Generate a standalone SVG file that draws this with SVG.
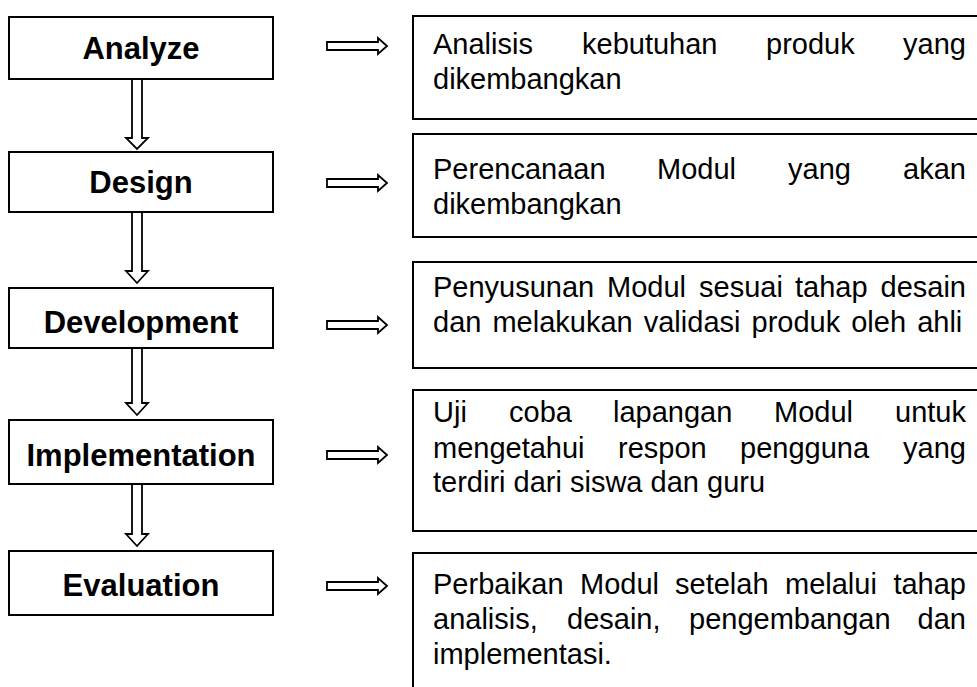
<svg xmlns="http://www.w3.org/2000/svg" width="977" height="687" viewBox="0 0 977 687">
<style>
.box{fill:#fff;stroke:#000;stroke-width:2}
.arr{fill:#fff;stroke:#000;stroke-width:1.8;stroke-linejoin:miter}
.lbl{font-family:"Liberation Sans",Arial,sans-serif;font-weight:bold;font-size:31px;fill:#000;text-anchor:middle}
.txt{font-family:"Liberation Sans",Arial,sans-serif;font-size:29px;fill:#000}
.e{text-anchor:end}
</style>
<rect width="977" height="687" fill="#fff"/>
<g id="connectors">
<polygon class="arr" points="132,79 142,79 142,138 148,138 137,149 126,138 132,138"/>
<polygon class="arr" points="132,212 142,212 142,271 148,271 137,283 126,271 132,271"/>
<polygon class="arr" points="132,348 142,348 142,403 148,403 137,415 126,403 132,403"/>
<polygon class="arr" points="132,484 142,484 142,534 148,534 137,546 126,534 132,534"/>
<polygon class="arr" points="327,42 378,42 378,38 387,46 378,54 378,50 327,50"/>
<polygon class="arr" points="327,179 378,179 378,175 387,183 378,191 378,187 327,187"/>
<polygon class="arr" points="327,321 378,321 378,317 387,325 378,333 378,329 327,329"/>
<polygon class="arr" points="327,451 378,451 378,447 387,455 378,463 378,459 327,459"/>
<polygon class="arr" points="327,582 378,582 378,578 387,586 378,594 378,590 327,590"/>
</g>
<g id="analyze"><rect class="box" x="9" y="17" width="264" height="62"/><text class="lbl" x="141" y="59">Analyze</text></g>
<g id="design"><rect class="box" x="9" y="152" width="264" height="60"/><text class="lbl" x="141" y="193">Design</text></g>
<g id="development"><rect class="box" x="9" y="288" width="264" height="60"/><text class="lbl" x="141" y="333">Development</text></g>
<g id="implementation"><rect class="box" x="9" y="420" width="264" height="64"/><text class="lbl" x="141" y="466">Implementation</text></g>
<g id="evaluation"><rect class="box" x="9" y="551" width="264" height="64"/><text class="lbl" x="141" y="596">Evaluation</text></g>
<g id="desc-analyze"><rect class="box" x="413" y="16" width="580" height="103"/>
<text class="txt" x="433" y="54">Analisis</text><text class="txt" x="582" y="54">kebutuhan</text><text class="txt" x="766" y="54">produk</text><text class="txt e" x="966" y="54">yang</text>
<text class="txt" x="433" y="89">dikembangkan</text></g>
<g id="desc-design"><rect class="box" x="413" y="134" width="580" height="103"/>
<text class="txt" x="433" y="179">Perencanaan</text><text class="txt" x="657" y="179">Modul</text><text class="txt" x="788" y="179">yang</text><text class="txt e" x="966" y="179">akan</text>
<text class="txt" x="433" y="214">dikembangkan</text></g>
<g id="desc-development"><rect class="box" x="413" y="262" width="580" height="106"/>
<text class="txt" x="433" y="297">Penyusunan</text><text class="txt" x="607" y="297">Modul</text><text class="txt" x="699" y="297">sesuai</text><text class="txt" x="795" y="297">tahap</text><text class="txt e" x="966" y="297">desain</text>
<text class="txt" x="433" y="332" word-spacing="3">dan melakukan validasi produk oleh ahli</text></g>
<g id="desc-implementation"><rect class="box" x="413" y="390" width="580" height="141"/>
<text class="txt" x="433" y="422">Uji</text><text class="txt" x="509" y="422">coba</text><text class="txt" x="613" y="422">lapangan</text><text class="txt" x="774" y="422">Modul</text><text class="txt e" x="966" y="422">untuk</text>
<text class="txt" x="433" y="458">mengetahui</text><text class="txt" x="618" y="458">respon</text><text class="txt" x="740" y="458">pengguna</text><text class="txt e" x="966" y="458">yang</text>
<text class="txt" x="433" y="492">terdiri dari siswa dan guru</text></g>
<g id="desc-evaluation"><rect class="box" x="413" y="553" width="580" height="150"/>
<text class="txt" x="433" y="594">Perbaikan</text><text class="txt" x="580" y="594">Modul</text><text class="txt" x="675" y="594">setelah</text><text class="txt" x="785" y="594">melalui</text><text class="txt e" x="966" y="594">tahap</text>
<text class="txt" x="433" y="629">analisis,</text><text class="txt" x="567" y="629">desain,</text><text class="txt" x="689" y="629">pengembangan</text><text class="txt e" x="966" y="629">dan</text>
<text class="txt" x="433" y="664">implementasi.</text></g>
</svg>
